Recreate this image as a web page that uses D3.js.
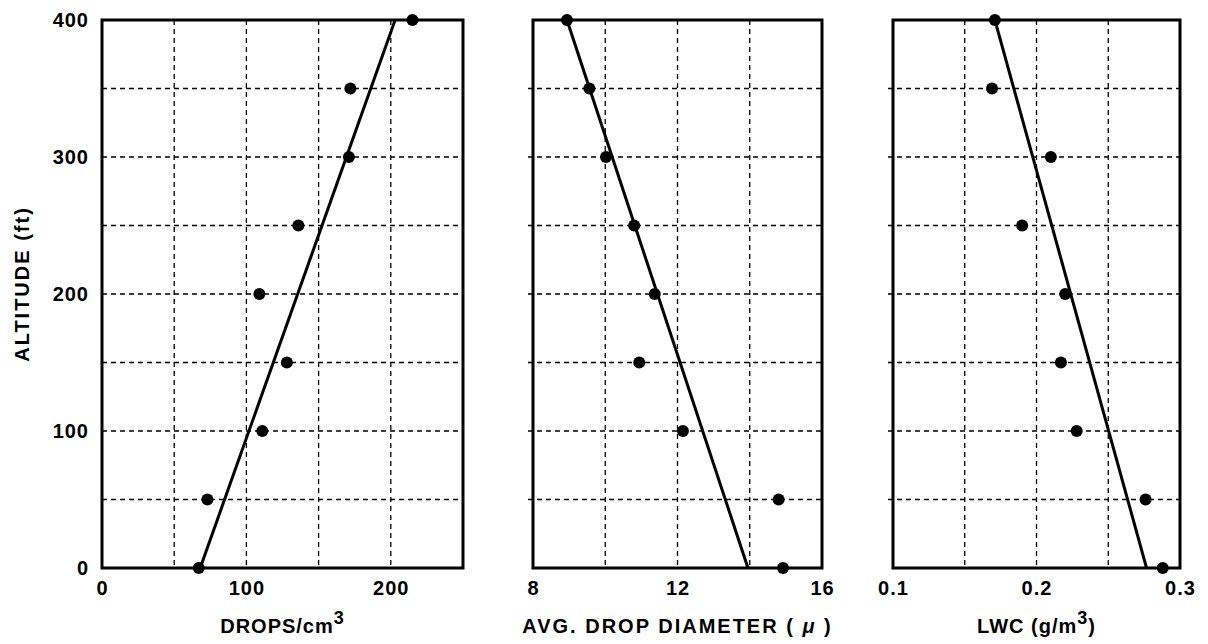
<!DOCTYPE html>
<html>
<head>
<meta charset="utf-8">
<script src="https://cdn.jsdelivr.net/npm/d3@7"></script>
<style>
  body { margin: 0; background: #fff; }
  svg { display: block; font-family: "Liberation Sans", Arial, sans-serif; }
  .tick text { font-weight: bold; font-size: 20px; letter-spacing: 1px; fill: #000; }
  .title { font-weight: bold; font-size: 20px; letter-spacing: 1px; fill: #000; }
</style>
</head>
<body>
<div id="chart"></div>
<script>
// altitude of each sample (ft)
var altitudes = [0, 50, 100, 150, 200, 250, 300, 350, 400];

// measured values per altitude
var drops    = [67, 73, 111, 128, 109, 136, 171, 172, 215];
var diameter = [14.92, 14.8, 12.15, 10.94, 11.37, 10.8, 10.02, 9.56, 8.94];
var lwc      = [0.288, 0.276, 0.228, 0.217, 0.220, 0.19, 0.21, 0.169, 0.171];

// straight line fits, end points at 0 and 400 ft
var fitAlt     = [0, 400];
var dropsFit   = [68, 203];
var diamFit    = [13.95, 8.94];
var lwcFit     = [0.2767, 0.171];

var altTicks = [0, 100, 200, 300, 400];
var altGrid  = [50, 100, 150, 200, 250, 300, 350];

var panels = [
    { x0: 102, x1: 463, domain: [0, 250], ticks: [0, 100, 200], grid: [50, 100, 150, 200],
      values: drops, fit: dropsFit, fmt: d3.format('d'), stub: 0 },
    { x0: 533, x1: 822, domain: [8, 16], ticks: [8, 12, 16], grid: [10, 12, 14],
      values: diameter, fit: diamFit, fmt: d3.format('d'), stub: 5 },
    { x0: 893, x1: 1180, domain: [0.1, 0.3], ticks: [0.1, 0.2, 0.3], grid: [0.15, 0.2, 0.25],
      values: lwc, fit: lwcFit, fmt: d3.format('.1f'), stub: 5 }
];

var width = 1208, height = 644,
    plotTop = 20, plotBottom = 568;

var svg = d3.select('#chart').append('svg')
    .attr('width', width)
    .attr('height', height);

var y = d3.scaleLinear().domain([0, 400]).range([plotBottom, plotTop]);

/* y axis labels on the first panel */
var yAxis = svg.append('g')
    .attr('transform', 'translate(' + (panels[0].x0 - 8) + ',0)')
    .call(d3.axisLeft(y).tickValues(altTicks).tickSize(0).tickPadding(5));
yAxis.select('.domain').remove();

svg.append('text')
    .attr('class', 'title')
    .attr('transform', 'translate(29,284) rotate(-90)')
    .attr('text-anchor', 'middle')
    .style('letter-spacing', '2px')
    .text('ALTITUDE (ft)');

var titles = [
    function(t) { t.text('DROPS/cm'); t.append('tspan').attr('dy', -9).attr('font-size', 18).text('3'); },
    function(t) {
        t.style('letter-spacing', '2px').text('AVG. DROP DIAMETER ( ');
        t.append('tspan').attr('font-style', 'italic').text('\u03bc');
        t.append('tspan').text(' )');
    },
    function(t) { t.text('LWC (g/m'); t.append('tspan').attr('dy', -9).attr('font-size', 18).text('3'); t.append('tspan').attr('dy', 9).text(')'); }
];

panels.forEach(function(p, i) {

    var x = d3.scaleLinear().domain(p.domain).range([p.x0, p.x1]);
    var g = svg.append('g');

    /* grid */
    g.append('g').selectAll('line')
        .data(p.grid)
        .enter().append('line')
        .attr('x1', function(d) { return x(d); })
        .attr('x2', function(d) { return x(d); })
        .attr('y1', plotTop)
        .attr('y2', plotBottom)
        .attr('stroke', '#000')
        .attr('stroke-width', 1.3)
        .attr('stroke-dasharray', '5,4');

    g.append('g').selectAll('line')
        .data(altGrid)
        .enter().append('line')
        .attr('x1', p.x0 - p.stub)
        .attr('x2', p.x1)
        .attr('y1', function(d) { return y(d); })
        .attr('y2', function(d) { return y(d); })
        .attr('stroke', '#000')
        .attr('stroke-width', 1.3)
        .attr('stroke-dasharray', '5,4');

    /* frame */
    g.append('rect')
        .attr('x', p.x0)
        .attr('y', plotTop)
        .attr('width', p.x1 - p.x0)
        .attr('height', plotBottom - plotTop)
        .attr('fill', 'none')
        .attr('stroke', '#000')
        .attr('stroke-width', 3);

    /* fit line */
    var line = d3.line()
        .x(function(d) { return x(d); })
        .y(function(d, j) { return y(fitAlt[j]); });

    g.append('path')
        .datum(p.fit)
        .attr('d', line)
        .attr('fill', 'none')
        .attr('stroke', '#000')
        .attr('stroke-width', 3);

    /* points */
    g.append('g').selectAll('circle')
        .data(p.values)
        .enter().append('circle')
        .attr('cx', function(d) { return x(d); })
        .attr('cy', function(d, j) { return y(altitudes[j]); })
        .attr('r', 6)
        .attr('fill', '#000');

    /* x tick labels */
    var xAxis = g.append('g')
        .attr('transform', 'translate(0,' + (plotBottom + 8) + ')')
        .call(d3.axisBottom(x).tickValues(p.ticks).tickFormat(p.fmt).tickSize(0).tickPadding(5));
    xAxis.select('.domain').remove();

    /* axis title */
    g.append('text')
        .attr('class', 'title')
        .attr('x', (p.x0 + p.x1) / 2)
        .attr('y', 633)
        .attr('text-anchor', 'middle')
        .call(titles[i]);
});
</script>
</body>
</html>
